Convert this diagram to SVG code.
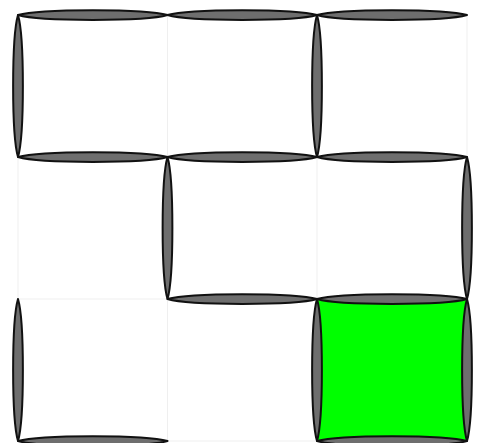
<svg xmlns="http://www.w3.org/2000/svg" width="478" height="443" viewBox="0 0 478 443">
<style>
.grid{stroke:#efefef;stroke-width:1;fill:none}
.wall{fill:#6e6e6e;stroke:#111111;stroke-width:2;stroke-linejoin:round}
.goal{fill:#00ff00;stroke:none}
</style>
<rect width="478" height="443" fill="#ffffff"/>
<g id="grid" class="grid">
<path d="M18 15V441M167.5 15V441M317 15V441M467 15V441M18 15H467M18 157H467M18 299H467M18 441H467"/>
</g>
<g id="cell-goal"><rect class="goal" x="317" y="299" width="150" height="142"/></g>
<g id="walls">
<g id="h-top">
<path class="wall" d="M18 15C40 8.5 145.5 8.5 167.5 15C145.5 21.5 40 21.5 18 15Z"/>
<path class="wall" d="M167.5 15C189.5 8.5 295 8.5 317 15C295 21.5 189.5 21.5 167.5 15Z"/>
<path class="wall" d="M317 15C339 8.5 445 8.5 467 15C445 21.5 339 21.5 317 15Z"/>
</g>
<g id="h-row1">
<path class="wall" d="M18 157C40 150.5 145.5 150.5 167.5 157C145.5 163.5 40 163.5 18 157Z"/>
<path class="wall" d="M167.5 157C189.5 150.5 295 150.5 317 157C295 163.5 189.5 163.5 167.5 157Z"/>
<path class="wall" d="M317 157C339 150.5 445 150.5 467 157C445 163.5 339 163.5 317 157Z"/>
</g>
<g id="h-row2">
<path class="wall" d="M167.5 299C189.5 292.5 295 292.5 317 299C295 305.5 189.5 305.5 167.5 299Z"/>
<path class="wall" d="M317 299C339 292.5 445 292.5 467 299C445 305.5 339 305.5 317 299Z"/>
</g>
<g id="h-bottom">
<path class="wall" d="M18 441C40 434.5 145.5 434.5 167.5 441C145.5 447.5 40 447.5 18 441Z"/>
<path class="wall" d="M317 441C339 434.5 445 434.5 467 441C445 447.5 339 447.5 317 441Z"/>
</g>
<g id="v-walls">
<path class="wall" d="M18 15C11.5 37 11.5 135 18 157C24.5 135 24.5 37 18 15Z"/>
<path class="wall" d="M18 299C11.5 321 11.5 419 18 441C24.5 419 24.5 321 18 299Z"/>
<path class="wall" d="M167.5 157C161 179 161 277 167.5 299C174 277 174 179 167.5 157Z"/>
<path class="wall" d="M317 15C310.5 37 310.5 135 317 157C323.5 135 323.5 37 317 15Z"/>
<path class="wall" d="M317 299C310.5 321 310.5 419 317 441C323.5 419 323.5 321 317 299Z"/>
<path class="wall" d="M467 157C460.5 179 460.5 277 467 299C473.5 277 473.5 179 467 157Z"/>
<path class="wall" d="M467 299C460.5 321 460.5 419 467 441C473.5 419 473.5 321 467 299Z"/>
</g>
</g>
<g id="connectors"/>
</svg>
